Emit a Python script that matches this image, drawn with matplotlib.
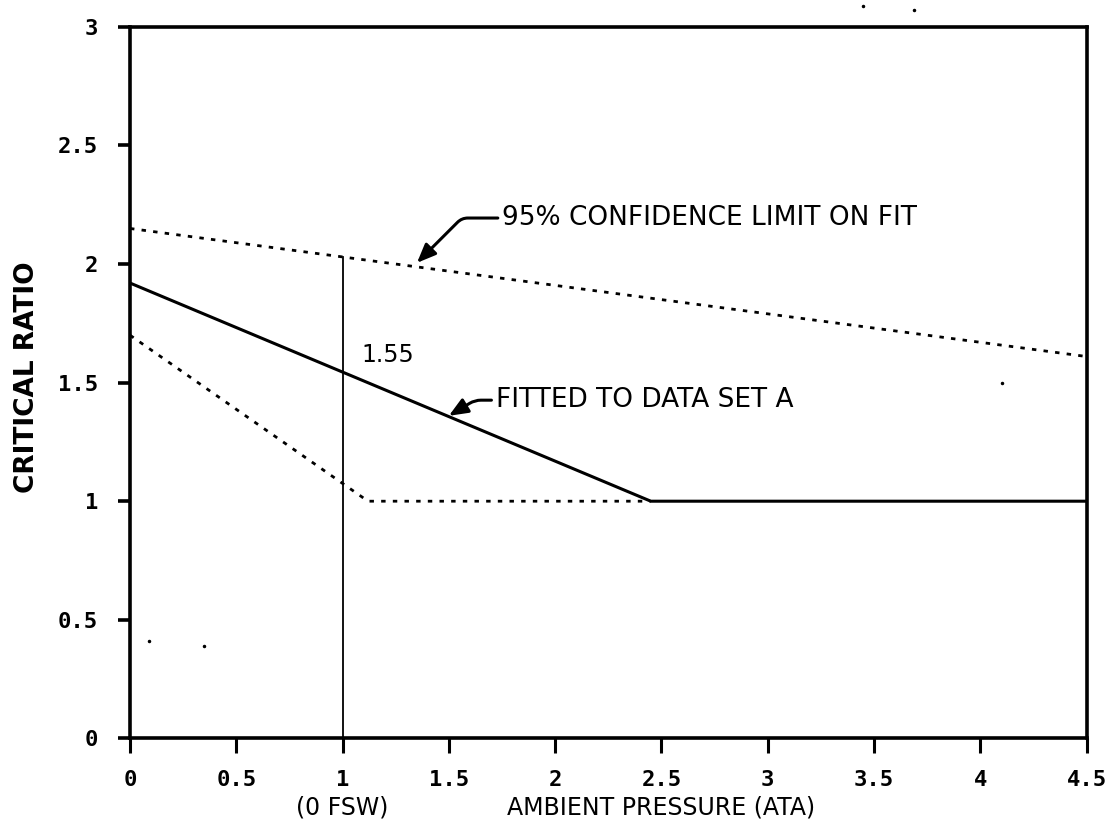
import matplotlib.pyplot as plt
import numpy as np

# fitted line and confidence limits (critical ratio vs ambient pressure)
fit_x = [0, 2.45, 4.5]
fit_y = [1.92, 1.0, 1.0]
upper_x = [0, 4.5]
upper_y = [2.15, 1.61]
lower_x = [0, 1.12, 2.45]
lower_y = [1.70, 1.0, 1.0]

# vertical marker at 1 ATA (0 FSW)
marker_x = 1.0
marker_top = 2.03

# stray specks on the scanned original
speck_x = [0.09, 0.35, 4.10, 3.45, 3.69]
speck_y = [0.41, 0.39, 1.50, 3.09, 3.07]

xticks = [0, 0.5, 1, 1.5, 2, 2.5, 3, 3.5, 4, 4.5]
yticks = [0, 0.5, 1, 1.5, 2, 2.5, 3]

fig = plt.figure(figsize=(11.11, 8.4), dpi=100)
ax = fig.add_axes([0.117, 0.121, 0.861, 0.847])

dots = (0, (1.6, 2.6))
ax.plot(fit_x, fit_y, color='black', linewidth=2.2)
ax.plot(upper_x, upper_y, color='black', linewidth=2.0, linestyle=dots)
ax.plot(lower_x, lower_y, color='black', linewidth=2.0, linestyle=dots)
ax.plot([marker_x, marker_x], [0, marker_top], color='black', linewidth=1.3)
ax.plot(speck_x, speck_y, 'k.', markersize=3, clip_on=False)

ax.set_xlim(0, 4.5)
ax.set_ylim(0, 3)
ax.set_xticks(xticks)
ax.set_yticks(yticks)
ax.set_xticklabels([f'{t:g}' for t in xticks], family='DejaVu Sans Mono', fontweight='bold', fontsize=16)
ax.set_yticklabels([f'{t:g}' for t in yticks], family='DejaVu Sans Mono', fontweight='bold', fontsize=16)
ax.tick_params(axis='x', direction='out', length=11, width=2.2, pad=12)
ax.tick_params(axis='y', direction='out', length=9, width=2.6, pad=14)
for s in ax.spines.values():
    s.set_linewidth(2.6)

ax.set_ylabel('CRITICAL RATIO', fontsize=19, fontweight='bold')
ax.yaxis.set_label_coords(-0.094, 0.508)
ax.text(1.0, -0.29, '(0 FSW)', ha='center', va='center', fontsize=17)
ax.text(2.5, -0.29, 'AMBIENT PRESSURE (ATA)', ha='center', va='center', fontsize=17)

ax.text(1.09, 1.616, '1.55', ha='left', va='center', fontsize=17)

arrow = dict(arrowstyle='-|>,head_length=0.6,head_width=0.25', color='black', lw=2.2,
             shrinkA=1, shrinkB=0)
ax.annotate('95% CONFIDENCE LIMIT ON FIT', xy=(1.35, 2.005), xytext=(1.75, 2.194),
            ha='left', va='center', fontsize=19,
            arrowprops=dict(arrow, connectionstyle='angle,angleA=0,angleB=45,rad=6'))
ax.annotate('FITTED TO DATA SET A', xy=(1.50, 1.36), xytext=(1.72, 1.426),
            ha='left', va='center', fontsize=19,
            arrowprops=dict(arrow, connectionstyle='angle,angleA=0,angleB=31,rad=6'))

plt.savefig('out.png', dpi=100)
